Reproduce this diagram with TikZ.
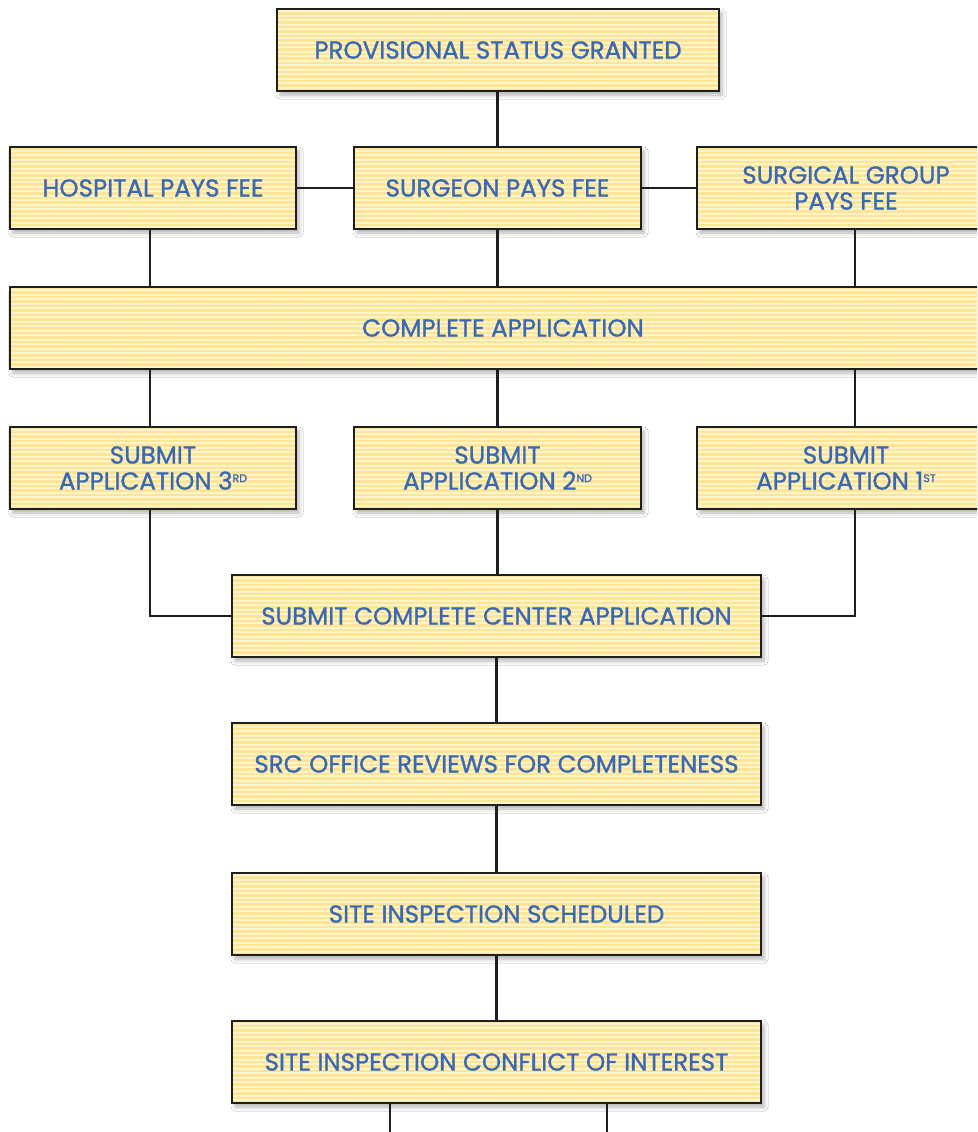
\documentclass[tikz,border=0pt]{standalone}
\usepackage{fontspec}
\setmainfont{Poppins}[BoldFont=Poppins, BoldFeatures={FakeBold=1.2}]
\usetikzlibrary{patterns.meta,shadows.blur}
\definecolor{boxfill}{HTML}{FDE597}
\definecolor{stripe}{HTML}{FFF4CC}
\definecolor{txtblue}{HTML}{3A69B4}
\definecolor{linecol}{HTML}{1E1E1E}
\newcommand\supx[1]{\raisebox{7.5pt}{\fontsize{11}{11}\selectfont #1}}
\tikzset{
  flowbox/.style={draw=linecol, line width=1.9pt, rectangle, inner sep=0pt,
    minimum height=82pt, align=center, text=txtblue,
    font=\fontsize{24.5}{26}\selectfont\bfseries,
    blur shadow={shadow xshift=3pt, shadow yshift=-4pt, shadow blur radius=4pt, shadow opacity=30},
    preaction={fill=boxfill},
    pattern={Lines[angle=0,distance=4.5pt,line width=2pt]}, pattern color=stripe},
  conn/.style={draw=linecol, line width=2.2pt}
}
\begin{document}
\begin{tikzpicture}[x=1pt,y=-1pt]
\useasboundingbox (0,0) rectangle (977,1132);
\clip (0,0) rectangle (977,1132);
\fill[white] (0,0) rectangle (977,1132);
\coordinate (gx) at (855,0);
\coordinate (b1) at (390,1132);
\coordinate (b2) at (607,1132);
\coordinate (jl) at (150,616);
\coordinate (jr) at (855,616);
\node[flowbox, minimum width=442pt] (prov) at (498,50) {PROVISIONAL STATUS GRANTED};
\node[flowbox, minimum width=286pt] (hosp) at (153,188) {HOSPITAL PAYS FEE};
\node[flowbox, minimum width=287pt] (surg) at (497.5,188) {SURGEON PAYS FEE};
\node[flowbox, minimum width=298pt] (group) at (846,188) {SURGICAL GROUP\\PAYS FEE};
\node[flowbox, minimum width=986pt] (comp) at (503,328) {COMPLETE APPLICATION};
\node[flowbox, minimum width=286pt] (s3) at (153,468) {SUBMIT\\APPLICATION 3\supx{RD}};
\node[flowbox, minimum width=287pt] (s2) at (497.5,468) {SUBMIT\\APPLICATION 2\supx{ND}};
\node[flowbox, minimum width=298pt] (s1) at (846,468) {SUBMIT\\APPLICATION 1\supx{ST}};
\node[flowbox, minimum width=529pt] (center) at (496.5,616) {SUBMIT COMPLETE CENTER APPLICATION};
\node[flowbox, minimum width=529pt] (src) at (496.5,764) {SRC OFFICE REVIEWS FOR COMPLETENESS};
\node[flowbox, minimum width=529pt] (sched) at (496.5,914) {SITE INSPECTION SCHEDULED};
\node[flowbox, minimum width=529pt] (conf) at (496.5,1062) {SITE INSPECTION CONFLICT OF INTEREST};
\draw[conn] (prov.south -| surg.north) -- (surg.north);
\draw[conn] (hosp.east) -- (surg.west);
\draw[conn] (surg.east) -- (surg.east -| group.west);
\draw[conn] (hosp.south -| jl) -- (comp.north -| jl);
\draw[conn] (surg.south) -- (comp.north -| surg.south);
\draw[conn] (group.south -| gx) -- (comp.north -| gx);
\draw[conn] (comp.south -| jl) -- (s3.north -| jl);
\draw[conn] (comp.south -| s2.north) -- (s2.north);
\draw[conn] (comp.south -| gx) -- (s1.north -| gx);
\draw[conn] (s3.south -| jl) -- (jl) -- (center.west);
\draw[conn] (s2.south) -- (center.north -| s2.south);
\draw[conn] (s1.south -| jr) -- (jr) -- (center.east);
\draw[conn] (center.south -| src.north) -- (src.north);
\draw[conn] (src.south) -- (sched.north);
\draw[conn] (sched.south) -- (conf.north);
\draw[conn] (conf.south -| b1) -- (b1);
\draw[conn] (conf.south -| b2) -- (b2);
\end{tikzpicture}
\end{document}
